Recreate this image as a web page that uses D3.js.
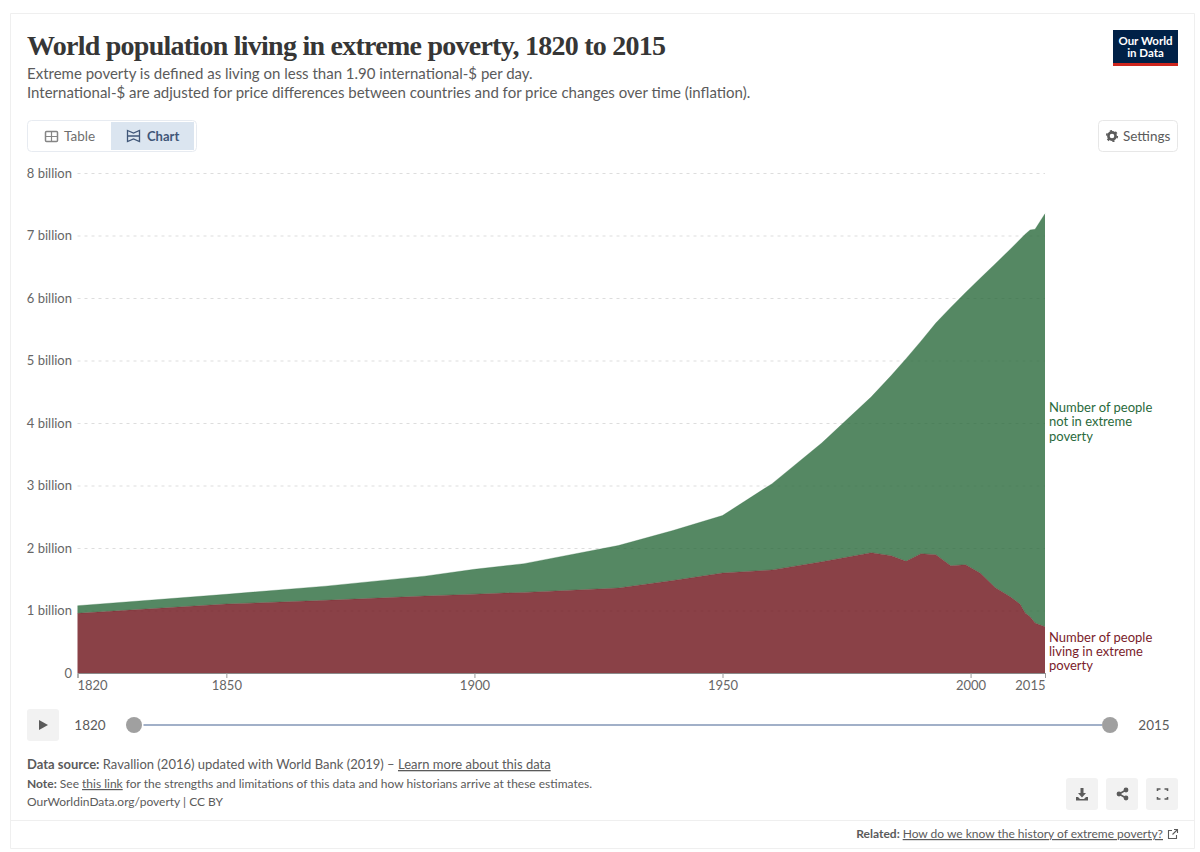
<!DOCTYPE html>
<html>
<head>
<meta charset="utf-8">
<script src="https://cdn.jsdelivr.net/npm/d3@7"></script>
<style>
  html, body { margin: 0; padding: 0; background: #fff; }
  svg { display: block; }
  text { font-family: Lato, "Open Sans", sans-serif; }
  .u { text-decoration: underline; }
</style>
</head>
<body>
<div id="chart"></div>
<script>
var years = [1820, 1850, 1870, 1890, 1900, 1910, 1929, 1940, 1950, 1960, 1970, 1980, 1984, 1987,
  1990, 1993, 1996, 1999, 2002, 2005, 2008, 2010, 2011, 2012, 2013, 2015];
var inPoverty = [0.955, 1.104, 1.163, 1.232, 1.262, 1.29, 1.36, 1.48, 1.6, 1.65, 1.78, 1.925, 1.877, 1.787,
  1.91, 1.893, 1.717, 1.733, 1.595, 1.365, 1.22, 1.1, 0.96, 0.9, 0.8, 0.74];
var notInPoverty = [0.122, 0.156, 0.227, 0.318, 0.398, 0.46, 0.68, 0.8, 0.92, 1.38, 1.9, 2.495, 2.883, 3.243,
  3.4, 3.707, 4.133, 4.357, 4.725, 5.185, 5.56, 5.84, 6.06, 6.19, 6.3, 6.61];
var yTicks = [0, 1, 2, 3, 4, 5, 6, 7, 8];
var xTicks = [1820, 1850, 1900, 1950, 2000, 2015];
var notInLabel = ['Number of people', 'not in extreme', 'poverty'];
var inLabel = ['Number of people', 'living in extreme', 'poverty'];
var subtitle = ['Extreme poverty is defined as living on less than 1.90 international-$ per day.',
  'International-$ are adjusted for price differences between countries and for price changes over time (inflation).'];

var svg = d3.select('#chart').append('svg').attr('width', 1200).attr('height', 852);

var x = d3.scaleLinear().domain([1820, 2015]).range([77.5, 1045]);
var y = d3.scaleLinear().domain([0, 8]).range([673, 173]);

function label(txt, px, py, size, color, anchor, weight) {
  return svg.append('text').attr('x', px).attr('y', py)
    .attr('font-size', size).attr('fill', color)
    .attr('text-anchor', anchor || 'start')
    .attr('font-weight', weight || 400)
    .text(txt);
}

function box(px, py, w, h, fill, stroke, r) {
  return svg.append('rect').attr('x', px).attr('y', py).attr('width', w).attr('height', h)
    .attr('rx', r === undefined ? 4 : r)
    .attr('fill', fill).attr('stroke', stroke || 'none');
}

// frame
svg.append('path').attr('fill', 'none').attr('stroke', '#efefef')
  .attr('d', 'M10.5,13.5H1194.5V848.5H10.5ZM10.5,820.5H1194.5');

// header
label('World population living in extreme poverty, 1820 to 2015', 27, 55, 28, '#363636', 'start', 700)
  .style('font-family', '"Liberation Serif", serif')
  .attr('textLength', 639).attr('lengthAdjust', 'spacing');
subtitle.forEach(function(s, i) {
  label(s, 27, 79 + i * 18.5, 15, '#5b5b5b');
});

box(1113, 30, 65, 36, '#002147', null, 0);
box(1113, 63, 65, 3, '#ce261e', null, 0);
label('Our World', 1145.5, 44.5, 11.5, '#fff', 'middle', 700);
label('in Data', 1145.5, 56.5, 11.5, '#fff', 'middle', 700);

// table / chart toggle
box(27.5, 120.5, 169, 31, '#fff', '#e7ebf1');
box(111, 122, 83, 28, '#dbe5f0', null, 0);
box(45.5, 131.5, 12, 10, 'none', '#858585', 1).attr('stroke-width', 1.5);
svg.append('path').attr('fill', 'none').attr('stroke', '#858585').attr('stroke-width', 1.2)
  .attr('d', 'M45.5,136.5H57.5M51.5,131.5V141.5');
label('Table', 64, 141, 13.5, '#6e6e6e');
svg.append('path').attr('fill', 'none').attr('stroke', '#3f5678').attr('stroke-width', 1.3)
  .attr('d', 'M127.5,130.5L133.5,133L139.5,130.5V141.5L133.5,139L127.5,141.5ZM127.5,136H139.5');
label('Chart', 147, 141, 13, '#3f5678', 'start', 700);

// settings
box(1098.5, 120.5, 79, 31, '#fff', '#e7e7e7');
svg.append('circle').attr('cx', 1112).attr('cy', 136).attr('r', 3.6)
  .attr('fill', 'none').attr('stroke', '#5b5b5b').attr('stroke-width', 2.6);
svg.append('circle').attr('cx', 1112).attr('cy', 136).attr('r', 5.3)
  .attr('fill', 'none').attr('stroke', '#5b5b5b').attr('stroke-width', 1.6).attr('stroke-dasharray', '2.2 3.35');
label('Settings', 1123, 141, 13.5, '#5b5b5b');

// grid + axes
svg.append('g').selectAll('line').data(yTicks.slice(1)).join('line')
  .attr('x1', x(1820)).attr('x2', x(2015))
  .attr('y1', function(d) { return y(d) + 0.5; }).attr('y2', function(d) { return y(d) + 0.5; })
  .attr('stroke', '#dddddd').attr('stroke-dasharray', '3 4');

var yAxis = svg.append('g').attr('transform', 'translate(77,0)')
  .call(d3.axisLeft(y).tickValues(yTicks).tickSize(0).tickPadding(5)
    .tickFormat(function(d) { return d === 0 ? '0' : d + ' billion'; }));
yAxis.select('.domain').remove();
yAxis.selectAll('text').attr('font-size', 13).attr('fill', '#666').style('font-family', 'Lato');

// stacked areas
var rows = years.map(function(yr, i) {
  return { year: yr, inPoverty: inPoverty[i], notInPoverty: notInPoverty[i] };
});
var stack = d3.stack().keys(['inPoverty', 'notInPoverty'])(rows);
var colors = { inPoverty: '#6d1219', notInPoverty: '#2a6a3c' };
var area = d3.area()
  .x(function(d) { return x(d.data.year); })
  .y0(function(d) { return y(d[0]); })
  .y1(function(d) { return y(d[1]); });
var topLine = d3.line()
  .x(function(d) { return x(d.data.year); })
  .y(function(d) { return y(d[1]); });

svg.append('g').selectAll('path').data(stack).join('path')
  .attr('d', area)
  .attr('fill', function(s) { return colors[s.key]; })
  .attr('fill-opacity', 0.8);
svg.append('g').selectAll('path').data(stack).join('path')
  .attr('d', topLine)
  .attr('fill', 'none')
  .attr('stroke', function(s) { return colors[s.key]; })
  .attr('stroke-opacity', 0.45)
  .attr('stroke-width', 0.6);

var xAxis = svg.append('g').attr('transform', 'translate(0,673)')
  .call(d3.axisBottom(x).tickValues(xTicks).tickSize(5).tickPadding(3).tickFormat(d3.format('d')));
xAxis.select('.domain').attr('stroke', '#8a8a8a');
xAxis.selectAll('line').attr('stroke', '#9a9a9a');
xAxis.selectAll('text').attr('font-size', 13).attr('fill', '#666').style('font-family', 'Lato')
  .attr('text-anchor', function(d) { return d === 1820 ? 'start' : d === 2015 ? 'end' : 'middle'; })
  .attr('dx', function(d) { return d === 1820 ? -0.5 : 0; });

// series labels
notInLabel.forEach(function(s, i) {
  label(s, 1049, 411.5 + i * 14.5, 13, '#2a6a3c');
});
inLabel.forEach(function(s, i) {
  label(s, 1049, 641.5 + i * 14, 13, '#7a1c2a');
});

// timeline
box(27, 709, 32, 32, '#f2f2f2', null, 3);
svg.append('path').attr('fill', '#5b5b5b').attr('d', 'M39,720L48,725L39,730Z');
label('1820', 90, 730, 13.5, '#5b5b5b', 'middle');
svg.append('line').attr('x1', x(1820) + 66).attr('x2', 1102).attr('y1', 725).attr('y2', 725)
  .attr('stroke', '#a1b0c8').attr('stroke-width', 2);
svg.append('g').selectAll('circle').data([134, 1110]).join('circle')
  .attr('cx', function(d) { return d; }).attr('cy', 725).attr('r', 8)
  .attr('fill', '#a0a0a0');
label('2015', 1154, 730, 13.5, '#5b5b5b', 'middle');

// footer
var src = label('', 27, 769, 13, '#5b5b5b');
src.append('tspan').attr('font-weight', 700).text('Data source:');
src.append('tspan').text(' Ravallion (2016) updated with World Bank (2019) – ');
src.append('tspan').attr('class', 'u').text('Learn more about this data');

var note = label('', 27, 788, 12, '#5b5b5b');
note.append('tspan').attr('font-weight', 700).text('Note:');
note.append('tspan').text(' See ');
note.append('tspan').attr('class', 'u').text('this link');
note.append('tspan').text(' for the strengths and limitations of this data and how historians arrive at these estimates.');

label('OurWorldinData.org/poverty | CC BY', 27, 806, 12, '#5b5b5b');

[1066, 1106, 1146].forEach(function(px) {
  box(px, 778, 32, 32, '#f2f2f2', null, 3);
});
// download
svg.append('path').attr('fill', '#5b5b5b')
  .attr('d', 'M1080.5,788H1083.5V793H1086L1082,797.5L1078,793H1080.5ZM1076,797H1078L1080,799H1084L1086,797H1088V800.5H1076Z');
// share
svg.append('path').attr('fill', 'none').attr('stroke', '#5b5b5b').attr('stroke-width', 1.6)
  .attr('d', 'M1126,790L1119,794L1126,798');
svg.append('g').selectAll('circle').data([[1126, 790], [1119, 794], [1126, 798]]).join('circle')
  .attr('cx', function(d) { return d[0]; }).attr('cy', function(d) { return d[1]; }).attr('r', 2.4)
  .attr('fill', '#5b5b5b');
// fullscreen
svg.append('path').attr('fill', 'none').attr('stroke', '#5b5b5b').attr('stroke-width', 1.6)
  .attr('d', 'M1157.5,791V789H1160.5M1164.5,789H1167.5V791M1167.5,797V799H1164.5M1160.5,799H1157.5V797');

var rel = label('', 1163, 838, 12, '#5b5b5b', 'end');
rel.append('tspan').attr('font-weight', 700).text('Related: ');
rel.append('tspan').attr('class', 'u').text('How do we know the history of extreme poverty?');
svg.append('path').attr('fill', 'none').attr('stroke', '#5b5b5b').attr('stroke-width', 1.1)
  .attr('d', 'M1172,830.5H1168.5V838.5H1176.5V835M1172.5,834.5L1177,830M1174,829.5H1177.5V833');
</script>
</body>
</html>
